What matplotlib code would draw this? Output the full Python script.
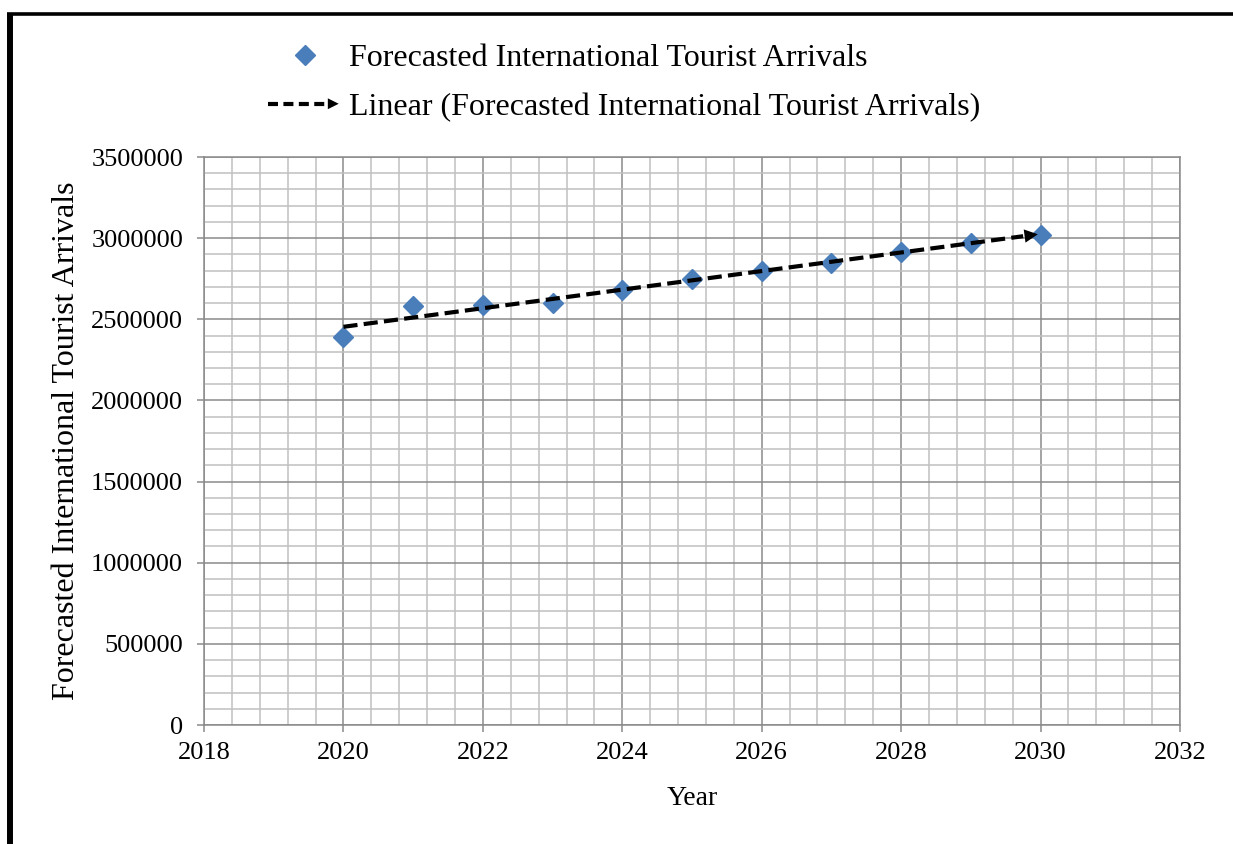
import numpy as np
import matplotlib
matplotlib.use("Agg")
import matplotlib.pyplot as plt
from matplotlib.lines import Line2D
from matplotlib.patches import FancyArrowPatch
from matplotlib.legend_handler import HandlerBase
from matplotlib.ticker import MultipleLocator, StrMethodFormatter

# forecast series
years = [2020, 2021, 2022, 2023, 2024, 2025, 2026, 2027, 2028, 2029, 2030]
arrivals = [2390000, 2580000, 2588000, 2602000, 2680000, 2748000,
            2797000, 2849000, 2916000, 2972000, 3017000]

series_label = "Forecasted International Tourist Arrivals"
trend_label = "Linear (Forecasted International Tourist Arrivals)"

BLUE = "#4a7ebb"
MAJOR_GRID = "#8a8a8a"
MINOR_GRID = "#c0c0c0"

plt.rcParams["font.family"] = ["Liberation Serif", "DejaVu Serif"]


class HandlerArrowLine(HandlerBase):
    """Dashed legend line ending in an arrow head."""

    def create_artists(self, legend, orig_handle, xdescent, ydescent,
                       width, height, fontsize, trans):
        y = height / 2 - ydescent
        x0, x1 = -xdescent, width - xdescent
        head = 0.22 * width
        line = Line2D([x0, x1 - head * 0.7], [y, y], color="black",
                      linewidth=3, linestyle=(0, (2.4, 1.3)))
        arrow = FancyArrowPatch((x1 - head, y), (x1, y), arrowstyle="-|>",
                                mutation_scale=fontsize * 0.85,
                                color="black", linewidth=0)
        line.set_transform(trans)
        arrow.set_transform(trans)
        return [line, arrow]


fig = plt.figure(figsize=(12.33, 8.44), dpi=100)
ax = fig.add_axes([204 / 1233, 1 - 725 / 844, 976 / 1233, 568 / 844])

ax.set_xlim(2018, 2032)
ax.set_ylim(0, 3500000)
ax.xaxis.set_major_locator(MultipleLocator(2))
ax.xaxis.set_minor_locator(MultipleLocator(0.4))
ax.yaxis.set_major_locator(MultipleLocator(500000))
ax.yaxis.set_minor_locator(MultipleLocator(100000))
ax.yaxis.set_major_formatter(StrMethodFormatter("{x:.0f}"))
ax.grid(which="minor", color=MINOR_GRID, linewidth=1.1)
ax.grid(which="major", color=MAJOR_GRID, linewidth=1.1)
ax.set_axisbelow(True)
for side in ("left", "bottom", "top", "right"):
    ax.spines[side].set_color(MAJOR_GRID)
    ax.spines[side].set_linewidth(1.1)
ax.tick_params(which="major", direction="out", length=5, width=1.1,
               color=MAJOR_GRID, labelsize=19)
ax.tick_params(axis="y", pad=10)
ax.tick_params(axis="x", pad=7)
ax.tick_params(which="minor", length=0)

# linear trend line with an arrow at its end
slope, intercept = np.polyfit(years, arrivals, 1)
x_end = years[-1]
x_tail = x_end - 0.3
ax.plot([years[0], x_tail + 0.05],
        [slope * years[0] + intercept, slope * (x_tail + 0.05) + intercept],
        color="black", linewidth=3, linestyle=(0, (3.4, 1.5)), zorder=3)
ax.annotate("", xy=(x_end, slope * x_end + intercept),
            xytext=(x_tail, slope * x_tail + intercept),
            arrowprops=dict(arrowstyle="-|>", color="black", linewidth=0,
                            mutation_scale=24), zorder=4)

ax.plot(years, arrivals, linestyle="none", marker="D", markersize=10.5,
        color=BLUE, zorder=2)

ax.set_xlabel("Year", fontsize=20)
ax.set_ylabel(series_label, fontsize=23)
ax.xaxis.set_label_coords(0.5, -0.108)
ax.yaxis.set_label_coords(-0.126, 0.5)

series_handle = Line2D([], [], linestyle="none", marker="D", markersize=10.5,
                       color=BLUE)
trend_handle = Line2D([], [], color="black")
fig.legend([series_handle, trend_handle], [series_label, trend_label],
           handler_map={trend_handle: HandlerArrowLine()},
           loc="center left", bbox_to_anchor=(268 / 1233, 1 - 83 / 844),
           frameon=False, fontsize=23, borderpad=0, borderaxespad=0,
           handlelength=2.3, handletextpad=0.25, labelspacing=0.6)

# outer frame (top and left edges)
fig.add_artist(Line2D([7 / 1233, 1], [1 - 14.3 / 844, 1 - 14.3 / 844],
                      transform=fig.transFigure, color="black",
                      linewidth=2.6, solid_capstyle="butt"))
fig.add_artist(Line2D([10 / 1233, 10 / 1233], [0, 1 - 12.5 / 844],
                      transform=fig.transFigure, color="black",
                      linewidth=4.3, solid_capstyle="butt"))

fig.savefig("out.png", dpi=100)
